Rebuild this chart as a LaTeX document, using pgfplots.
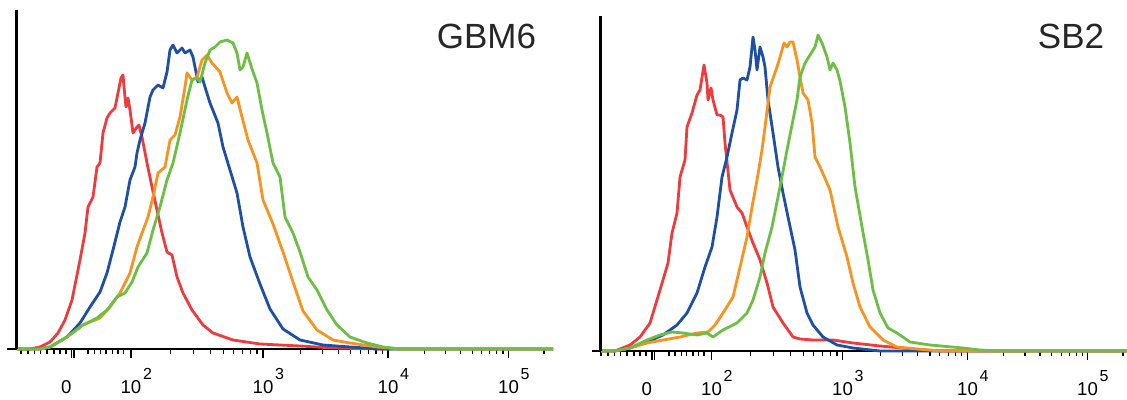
\documentclass[border=0pt]{standalone}
\usepackage{fontspec}
\setmainfont{Liberation Sans}
\usepackage{pgfplots}
\pgfplotsset{compat=1.18}
\definecolor{cred}{HTML}{EE3B3E}
\definecolor{cblue}{HTML}{1E4FA3}
\definecolor{corange}{HTML}{F7931E}
\definecolor{cgreen}{HTML}{6DBE45}
\newcommand{\dec}[1]{\makebox[0pt]{10\rlap{\hspace{0.9pt}\raisebox{6.6pt}{\fontsize{8}{9}\selectfont #1}}}}
\newcommand{\zer}{\makebox[0pt][r]{0}}
\pgfplotsset{flow/.style={
  x=0.5pt, y=0.5pt, anchor=south west,
  axis x line=bottom, axis y line=none,
  x axis line style={-, line width=0.8pt},
  ymin=0, clip=false, ytick=\empty,
  tick align=outside,
  major tick length=4.5pt, minor tick length=2.5pt,
  every tick/.style={black, line width=0.6pt},
  xticklabels={\zer,\zer,\dec{2},\dec{3},\dec{4},\dec{5}},
  xticklabel style={font=\fontsize{9.3}{11}\selectfont, anchor=base, yshift=-17.6pt},
  every axis plot/.append style={line width=1.4pt, line join=round},
}}
\begin{document}
\begin{tikzpicture}
\path[use as bounding box] (0,0) rectangle (563.5pt,200pt);
% ---------------- GBM6 ----------------
\begin{axis}[flow, at={(3.5pt,25.5pt)}, xmin=7, xmax=553, ymax=339,
  xtick={71.5,74,131,263,388,508.5},
  xticklabels={\zer,,\dec{2},\dec{3},\dec{4},\dec{5}},
  minor xtick={21,28,34.5,40.5,47,54,60,66,88,94.5,100.5,106,112.5,118,123.5,
    170.4,193.7,210.3,223.1,233.6,242.5,250.1,256.9,
    300.6,322.6,338.3,350.4,360.3,368.6,375.9,382.3,
    424.3,445.5,460.5,472.2,481.7,489.8,496.8,503.0,544.0}]
\addplot[cred] coordinates {(17,0)(30,0)(40,2)(50,7)(58,16)(65,29)(72,49)(80,89)(85,116)(88,142)(93,152)(97,182)(100,186)(103,216)(107,231)(110,236)(115,241)(118,256)(121,271)(123,274)(124,262)(126,242)(128,251)(130,239)(133,216)(137,222)(139,224)(142,212)(147,186)(152,162)(157,139)(162,116)(167,97)(172,94)(177,72)(183,56)(192,39)(203,24)(213,16)(233,9)(260,5)(300,3)(333,1)(380,0)(553,0)};
\addplot[cblue] coordinates {(17,0)(40,0)(50,2)(67,12)(80,26)(90,42)(100,57)(107,76)(113,99)(120,127)(125,142)(130,169)(135,182)(137,196)(140,209)(145,226)(150,252)(153,259)(158,264)(163,261)(167,277)(170,299)(173,304)(177,296)(182,301)(185,296)(190,299)(193,292)(198,267)(202,272)(205,262)(210,246)(218,226)(223,202)(230,179)(237,156)(243,122)(250,92)(260,65)(270,40)(283,20)(300,9)(323,4)(350,2)(380,0)(553,0)};
\addplot[corange] coordinates {(17,0)(40,0)(50,2)(67,12)(83,24)(100,31)(110,42)(120,56)(130,76)(137,102)(142,116)(148,132)(153,152)(158,176)(165,182)(170,209)(175,214)(180,232)(185,262)(187,276)(192,269)(197,272)(202,289)(207,294)(212,286)(220,277)(227,256)(232,246)(237,252)(242,232)(248,209)(257,186)(263,149)(273,125)(283,97)(293,67)(303,38)(317,19)(333,9)(350,6)(377,2)(400,0)(553,0)};
\addplot[cgreen] coordinates {(17,0)(40,0)(50,2)(67,12)(83,24)(97,31)(107,39)(117,52)(125,56)(132,67)(138,82)(147,96)(153,119)(160,142)(167,169)(173,186)(180,216)(187,249)(192,269)(197,271)(200,267)(205,286)(210,299)(215,302)(220,307)(227,309)(233,306)(237,296)(240,279)(243,282)(247,296)(252,280)(257,266)(262,239)(267,216)(273,186)(280,172)(285,132)(293,116)(300,97)(308,72)(317,59)(327,39)(337,24)(350,12)(367,6)(383,2)(400,0)(553,0)};
\draw[line width=1.5pt] (axis cs:16.5,0) -- (axis cs:16.5,339);
\end{axis}
% ---------------- SB2 ----------------
\begin{axis}[flow, at={(296pt,24.5pt)}, xmin=12, xmax=547, ymax=335,
  xtick={72,74.5,131.5,262.5,387.5,507.5},
  xticklabels={\zer,,\dec{2},\dec{3},\dec{4},\dec{5}},
  minor xtick={21,28,34.5,40.5,47,54,60,66,89,95,101.5,106.5,113,118.3,124,
    170.4,193.7,210.3,223.1,233.6,242.5,250.1,256.9,
    300.1,322.1,337.8,349.9,359.8,368.1,375.4,381.8,
    423.8,445,460,471.7,481.2,489.3,496.3,502.5,543.0}]
\addplot[cred] coordinates {(21,0)(35,0)(40,2)(50,6)(60,14)(70,28)(80,61)(88,88)(92,118)(97,138)(100,174)(105,191)(107,224)(112,238)(117,256)(120,261)(124,286)(127,268)(128,251)(131,263)(133,251)(137,236)(140,236)(143,234)(145,208)(150,161)(157,144)(162,138)(167,124)(173,108)(180,91)(187,68)(193,44)(203,28)(213,14)(220,12)(233,11)(253,11)(273,8)(300,5)(333,2)(360,0)(547,0)};
\addplot[cblue] coordinates {(21,0)(35,0)(50,3)(67,9)(83,16)(97,26)(107,38)(117,58)(125,84)(132,104)(137,134)(142,174)(147,194)(152,218)(157,241)(160,271)(163,273)(167,271)(170,284)(173,314)(175,301)(177,281)(180,304)(183,294)(185,284)(188,251)(193,218)(198,184)(203,158)(208,134)(215,101)(220,64)(227,38)(233,26)(243,14)(257,6)(273,3)(300,0)(547,0)};
\addplot[corange] coordinates {(21,0)(35,0)(50,3)(67,8)(83,11)(100,14)(117,18)(128,19)(135,26)(143,38)(153,54)(160,84)(167,114)(172,144)(177,171)(182,201)(185,224)(190,264)(197,284)(200,294)(204,308)(207,304)(210,309)(213,309)(217,291)(220,274)(223,258)(228,251)(232,228)(235,194)(240,184)(250,161)(258,124)(267,94)(273,68)(280,44)(290,24)(303,11)(317,4)(337,2)(360,0)(547,0)};
\addplot[cgreen] coordinates {(21,0)(35,0)(50,3)(67,11)(80,16)(92,19)(103,18)(117,16)(127,18)(133,14)(143,21)(157,28)(167,38)(173,51)(180,74)(185,98)(192,124)(200,164)(207,201)(213,231)(217,251)(220,274)(225,288)(230,296)(235,304)(238,316)(242,308)(247,294)(250,281)(253,288)(257,281)(260,270)(265,244)(270,208)(275,164)(282,124)(288,91)(293,61)(300,38)(308,23)(317,18)(330,9)(350,6)(383,3)(400,1)(420,0)(547,0)};
\draw[line width=1.5pt] (axis cs:20.5,0) -- (axis cs:20.5,335);
\end{axis}
\node[font=\fontsize{17.5}{20}\selectfont, inner sep=0pt, text=black!85] at (243.25pt,182pt) {GBM6};
\node[font=\fontsize{17.5}{20}\selectfont, inner sep=0pt, text=black!85] at (535.5pt,182pt) {SB2};
\end{tikzpicture}
\end{document}
